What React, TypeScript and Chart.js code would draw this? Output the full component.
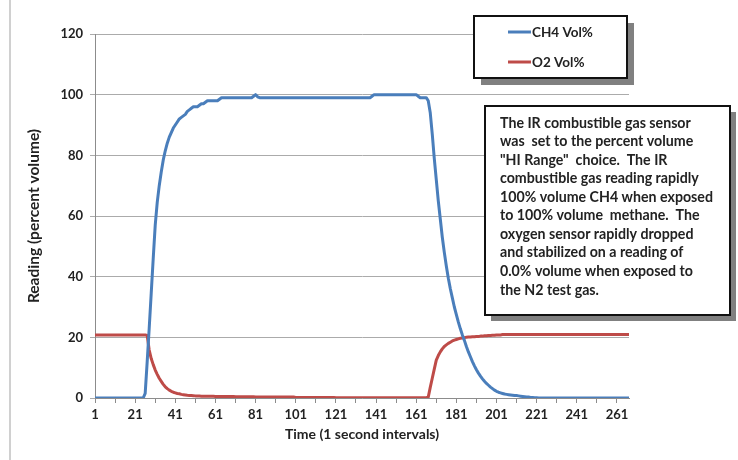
import React, { useEffect, useRef } from "react";
import { Chart, registerables } from "chart.js";

Chart.register(...registerables);

// CH4 reading (% vol), one value per second, t = 1..267
const CH4: number[] = [
  0, 0, 0, 0, 0, 0, 0, 0, 0, 0,
  0, 0, 0, 0, 0, 0, 0, 0, 0, 0,
  0, 0, 0, 0, 0, 1.5, 12, 23, 34.5, 46,
  57, 64.5, 70, 74.5, 78.5, 81.5, 84, 86, 87.5, 89,
  90, 91, 92, 92.5, 93, 93.5, 94.5, 95, 95.5, 96,
  96, 96, 96.5, 97, 97, 97.5, 98, 98, 98, 98,
  98, 98, 98.5, 99, 99, 99, 99, 99, 99, 99,
  99, 99, 99, 99, 99, 99, 99, 99, 99, 99.5,
  100, 99.3, 99, 99, 99, 99, 99, 99, 99, 99,
  99, 99, 99, 99, 99, 99, 99, 99, 99, 99,
  99, 99, 99, 99, 99, 99, 99, 99, 99, 99,
  99, 99, 99, 99, 99, 99, 99, 99, 99, 99,
  99, 99, 99, 99, 99, 99, 99, 99, 99, 99,
  99, 99, 99, 99, 99, 99, 99, 99, 99.5, 100,
  100, 100, 100, 100, 100, 100, 100, 100, 100, 100,
  100, 100, 100, 100, 100, 100, 100, 100, 100, 100,
  100, 99.5, 99, 99, 99, 99, 98, 94, 87, 79,
  72, 65, 59, 53, 48, 43.5, 39.5, 36, 33, 30,
  27.5, 25, 22.8, 20.8, 19, 17, 15.2, 13.6, 12, 10.6,
  9.3, 8.2, 7.2, 6.3, 5.5, 4.8, 4.2, 3.6, 3.1, 2.6,
  2.2, 1.9, 1.7, 1.5, 1.3, 1.2, 1.1, 1.0, 0.9, 0.8,
  0.8, 0.7, 0.6, 0.5, 0.4, 0.3, 0.3, 0.2, 0.2, 0.1,
  0.1, 0, 0, 0, 0, 0, 0, 0, 0, 0,
  0, 0, 0, 0, 0, 0, 0, 0, 0, 0,
  0, 0, 0, 0, 0, 0, 0, 0, 0, 0,
  0, 0, 0, 0, 0, 0, 0, 0, 0, 0,
  0, 0, 0, 0, 0, 0, 0,
];

// O2 reading (% vol), t = 1..267
const O2: number[] = [
  20.8, 20.8, 20.8, 20.8, 20.8, 20.8, 20.8, 20.8, 20.8, 20.8,
  20.8, 20.8, 20.8, 20.8, 20.8, 20.8, 20.8, 20.8, 20.8, 20.8,
  20.8, 20.8, 20.8, 20.8, 20.8, 20.8, 20.6, 15.8, 13, 11,
  9.2, 7.8, 6.5, 5.5, 4.5, 3.7, 3.1, 2.6, 2.2, 1.9,
  1.7, 1.5, 1.4, 1.2, 1.1, 1.0, 0.9, 0.85, 0.8, 0.75,
  0.7, 0.7, 0.65, 0.6, 0.6, 0.55, 0.55, 0.55, 0.55, 0.55,
  0.5, 0.5, 0.5, 0.5, 0.5, 0.5, 0.5, 0.5, 0.5, 0.5,
  0.4, 0.4, 0.4, 0.4, 0.4, 0.4, 0.4, 0.4, 0.4, 0.4,
  0.35, 0.35, 0.35, 0.35, 0.35, 0.35, 0.35, 0.35, 0.35, 0.35,
  0.3, 0.3, 0.3, 0.3, 0.3, 0.3, 0.3, 0.3, 0.3, 0.3,
  0.2, 0.2, 0.2, 0.2, 0.2, 0.2, 0.2, 0.2, 0.2, 0.2,
  0.2, 0.2, 0.2, 0.2, 0.2, 0.2, 0.2, 0.2, 0.2, 0.2,
  0.1, 0.1, 0.1, 0.1, 0.1, 0.1, 0.1, 0.1, 0.1, 0.1,
  0.1, 0.1, 0.1, 0.1, 0.1, 0.1, 0.1, 0.1, 0.1, 0.1,
  0.1, 0.1, 0.1, 0.1, 0.1, 0.1, 0.1, 0.1, 0.1, 0.1,
  0.1, 0.1, 0.1, 0.1, 0.1, 0.1, 0.1, 0.1, 0.1, 0.1,
  0.1, 0.1, 0.1, 0.1, 0.1, 0.1, 0.3, 3.5, 6.5, 9.5,
  12.5, 14, 15.2, 16.2, 17, 17.5, 18, 18.4, 18.8, 19.1,
  19.3, 19.5, 19.7, 19.8, 19.9, 20, 20.1, 20.1, 20.2, 20.2,
  20.3, 20.3, 20.4, 20.4, 20.5, 20.5, 20.6, 20.6, 20.7, 20.7,
  20.8, 20.8, 20.8, 20.9, 20.9, 20.9, 20.9, 20.9, 20.9, 20.9,
  20.9, 20.9, 20.9, 20.9, 20.9, 20.9, 20.9, 20.9, 20.9, 20.9,
  20.9, 20.9, 20.9, 20.9, 20.9, 20.9, 20.9, 20.9, 20.9, 20.9,
  20.9, 20.9, 20.9, 20.9, 20.9, 20.9, 20.9, 20.9, 20.9, 20.9,
  20.9, 20.9, 20.9, 20.9, 20.9, 20.9, 20.9, 20.9, 20.9, 20.9,
  20.9, 20.9, 20.9, 20.9, 20.9, 20.9, 20.9, 20.9, 20.9, 20.9,
  20.9, 20.9, 20.9, 20.9, 20.9, 20.9, 20.9,
];

const SERIES_NAMES = ["CH4 Vol%", "O2 Vol%"];
const SERIES_COLORS = ["#4A7EBB", "#BE4B48"];
const X_TICKS = [1, 11, 21, 31, 41, 51, 61, 71, 81, 91, 101, 111, 121, 131, 141, 151, 161, 171, 181, 191, 201, 211, 221, 231, 241, 251, 261];
const X_LABELS = [1, 21, 41, 61, 81, 101, 121, 141, 161, 181, 201, 221, 241, 261];
const Y_TICKS = [0, 20, 40, 60, 80, 100, 120];
const X_TITLE = "Time (1 second intervals)";
const Y_TITLE = "Reading (percent volume)";
const NOTE_LINES = [
  "The IR combustible gas sensor",
  "was  set to the percent volume",
  "\"HI Range\"  choice.  The IR",
  "combustible gas reading rapidly",
  "100% volume CH4 when exposed",
  "to 100% volume  methane.  The",
  "oxygen sensor rapidly dropped",
  "and stabilized on a reading of",
  "0.0% volume when exposed to",
  "the N2 test gas.",
];

const FAMILY = "Lato, 'Open Sans', 'Noto Sans', sans-serif";
const TEXT_COLOR = "#222222";

function shadowBox(ctx: CanvasRenderingContext2D, x: number, y: number, w: number, h: number, off: number) {
  ctx.fillStyle = "#808080";
  ctx.fillRect(x + off, y + off, w, h);
  ctx.fillStyle = "#ffffff";
  ctx.fillRect(x, y, w, h);
  ctx.strokeStyle = "#111111";
  ctx.lineWidth = 2;
  ctx.strokeRect(x, y, w, h);
}

const overlayPlugin = {
  id: "overlayPlugin",
  beforeDraw(chart: any) {
    const ctx = chart.ctx as CanvasRenderingContext2D;
    ctx.save();
    ctx.fillStyle = "#d0d0d0";
    ctx.fillRect(9, 0, 2, chart.height);
    ctx.restore();
  },
  afterDraw(chart: any) {
    const ctx = chart.ctx as CanvasRenderingContext2D;
    ctx.save();
    // legend box
    shadowBox(ctx, 474, 16, 153, 62, 7);
    const ds = chart.data.datasets;
    const rows = [32, 62];
    ds.forEach((d: any, i: number) => {
      ctx.strokeStyle = d.borderColor;
      ctx.lineWidth = 3;
      ctx.beginPath();
      ctx.moveTo(508, rows[i]);
      ctx.lineTo(531, rows[i]);
      ctx.stroke();
      ctx.fillStyle = TEXT_COLOR;
      ctx.font = `bold 13.5px ${FAMILY}`;
      ctx.textBaseline = "middle";
      ctx.textAlign = "left";
      ctx.fillText(d.label, 532, rows[i] + 1);
    });
    // annotation box
    shadowBox(ctx, 485, 106, 245, 209, 6);
    ctx.fillStyle = TEXT_COLOR;
    ctx.font = `bold 14.2px ${FAMILY}`;
    ctx.textBaseline = "middle";
    ctx.textAlign = "left";
    NOTE_LINES.forEach((line, i) => {
      ctx.fillText(line, 500, 123 + i * 18.55);
    });
    ctx.restore();
  },
};

export default function App() {
  const ref = useRef<HTMLCanvasElement | null>(null);

  useEffect(() => {
    if (!ref.current) return;
    const tickFont = { family: FAMILY, size: 13, weight: "bold" as const };
    const chart = new Chart(ref.current, {
      type: "line",
      data: {
        datasets: [
          {
            label: SERIES_NAMES[0],
            data: CH4.map((y, i) => ({ x: i + 1, y })),
            borderColor: SERIES_COLORS[0],
            backgroundColor: SERIES_COLORS[0],
            borderWidth: 3,
            pointRadius: 0,
            tension: 0,
            borderJoinStyle: "round",
            borderCapStyle: "round",
          },
          {
            label: SERIES_NAMES[1],
            data: O2.map((y, i) => ({ x: i + 1, y })),
            borderColor: SERIES_COLORS[1],
            backgroundColor: SERIES_COLORS[1],
            borderWidth: 3,
            pointRadius: 0,
            tension: 0,
            borderJoinStyle: "round",
            borderCapStyle: "round",
          },
        ],
      },
      options: {
        animation: false,
        responsive: false,
        maintainAspectRatio: false,
        layout: { padding: { top: 34, right: 109, left: 0, bottom: 0 } },
        plugins: {
          legend: { display: false },
          tooltip: { enabled: false },
        },
        scales: {
          x: {
            type: "linear",
            min: 1,
            max: 267,
            afterBuildTicks: (s: any) => {
              s.ticks = X_TICKS.map((v) => ({ value: v }));
            },
            afterFit: (s: any) => {
              s.height = 62;
            },
            ticks: {
              autoSkip: false,
              maxRotation: 0,
              padding: 4,
              color: TEXT_COLOR,
              font: tickFont,
              callback: (v: any) => (X_LABELS.includes(Number(v)) ? String(v) : ""),
            },
            grid: { drawOnChartArea: false, drawTicks: true, tickLength: 5, color: "#8c8c8c" },
            border: { color: "#8c8c8c", width: 1 },
            title: {
              display: true,
              text: X_TITLE,
              color: TEXT_COLOR,
              font: { family: FAMILY, size: 14, weight: "bold" },
              padding: { top: 0, bottom: 17 },
            },
          },
          y: {
            min: 0,
            max: 120,
            afterBuildTicks: (s: any) => {
              s.ticks = Y_TICKS.map((v) => ({ value: v }));
            },
            afterFit: (s: any) => {
              s.width = 95;
            },
            ticks: { padding: 7, color: TEXT_COLOR, font: tickFont },
            grid: { color: "#ababab", tickLength: 5, lineWidth: 1 },
            border: { color: "#8c8c8c", width: 1 },
            title: {
              display: true,
              text: Y_TITLE,
              color: TEXT_COLOR,
              font: { family: FAMILY, size: 15.5, weight: "bold" },
              padding: { top: 25, bottom: 0 },
            },
          },
        },
      },
      plugins: [overlayPlugin],
    });
    return () => chart.destroy();
  }, []);

  return (
    <div style={{ position: "absolute", left: 0, top: 0, width: 738, height: 460, background: "#fff" }}>
      <canvas ref={ref} width={738} height={460} style={{ display: "block" }} />
    </div>
  );
}
